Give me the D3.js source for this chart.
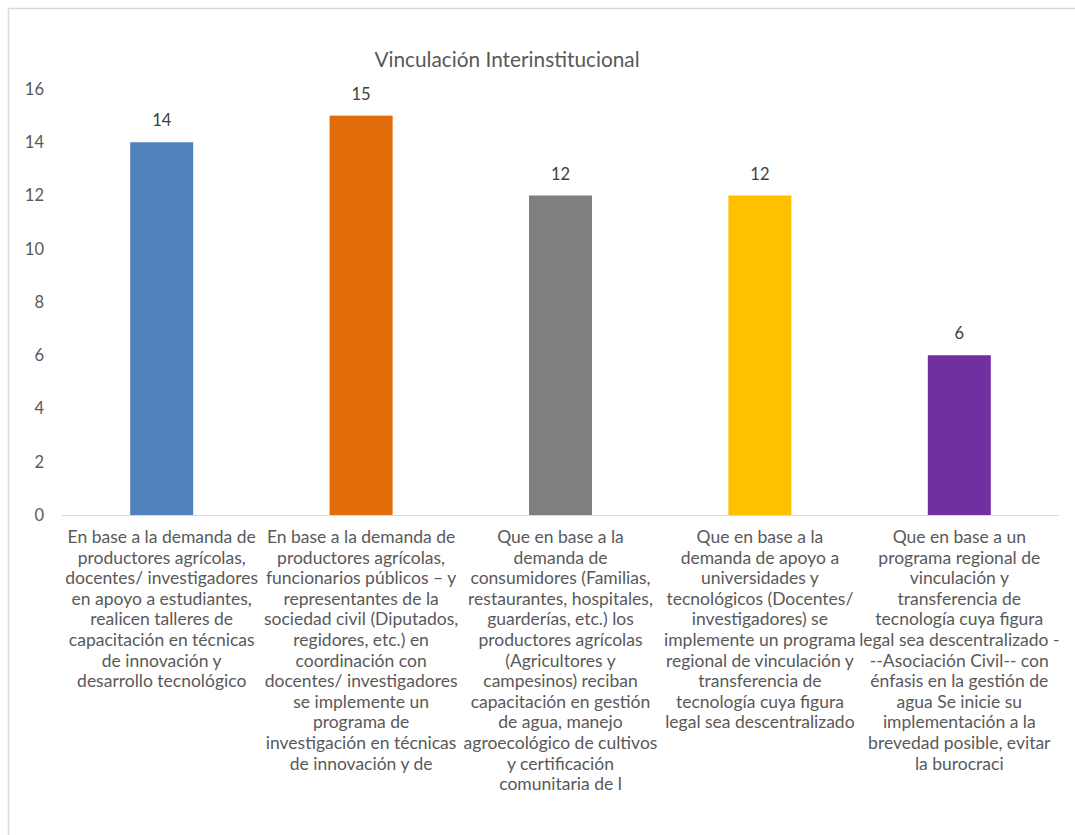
<!DOCTYPE html>
<html>
<head>
<meta charset="utf-8">
<script src="https://cdn.jsdelivr.net/npm/d3@7"></script>
<style>
  html, body { margin: 0; padding: 0; background: #fff; }
  svg { display: block; font-family: Lato, "Open Sans", sans-serif; }
</style>
</head>
<body>
<svg id="chart" width="1075" height="835"></svg>
<script>
// Chart content
const title = "Vinculación Interinstitucional";

const categories = [
  "En base a la demanda de productores agrícolas, docentes/ investigadores en apoyo a estudiantes, realicen talleres de capacitación en técnicas de innovación y desarrollo tecnológico",
  "En base a la demanda de productores agrícolas, funcionarios públicos – y representantes de la sociedad civil (Diputados, regidores, etc.) en coordinación con docentes/ investigadores se implemente un programa de investigación en técnicas de innovación y de",
  "Que en base a la demanda de consumidores (Familias, restaurantes, hospitales, guarderías, etc.) los productores agrícolas (Agricultores y campesinos) reciban capacitación en gestión de agua, manejo agroecológico de cultivos y certificación comunitaria de l",
  "Que en base a la demanda de apoyo a universidades y tecnológicos (Docentes/ investigadores) se implemente un programa regional de vinculación y transferencia de tecnología cuya figura legal sea descentralizado",
  "Que en base a un programa regional de vinculación y transferencia de tecnología cuya figura legal sea descentralizado ---Asociación Civil-- con énfasis en la gestión de agua Se inicie su implementación a la brevedad posible, evitar la burocraci"
];

// Wrapped lines of each category label
const categoryLines = [
  ["En base a la demanda de", "productores agrícolas,", "docentes/ investigadores", "en apoyo a estudiantes,", "realicen talleres de", "capacitación en técnicas", "de innovación y", "desarrollo tecnológico"],
  ["En base a la demanda de", "productores agrícolas,", "funcionarios públicos – y", "representantes de la", "sociedad civil (Diputados,", "regidores, etc.) en", "coordinación con", "docentes/ investigadores", "se implemente un", "programa de", "investigación en técnicas", "de innovación y de"],
  ["Que en base a la", "demanda de", "consumidores (Familias,", "restaurantes, hospitales,", "guarderías, etc.) los", "productores agrícolas", "(Agricultores y", "campesinos) reciban", "capacitación en gestión", "de agua, manejo", "agroecológico de cultivos", "y certificación", "comunitaria de l"],
  ["Que en base a la", "demanda de apoyo a", "universidades y", "tecnológicos (Docentes/", "investigadores) se", "implemente un programa", "regional de vinculación y", "transferencia de", "tecnología cuya figura", "legal sea descentralizado"],
  ["Que en base a un", "programa regional de", "vinculación y", "transferencia de", "tecnología cuya figura", "legal sea descentralizado -", "--Asociación Civil-- con", "énfasis en la gestión de", "agua Se inicie su", "implementación a la", "brevedad posible, evitar", "la burocraci"]
];

const values = [14, 15, 12, 12, 6];
const barColors = ["#4F81BD", "#E36C0A", "#7F7F7F", "#FFC000", "#7030A0"];
const yTicks = [0, 2, 4, 6, 8, 10, 12, 14, 16];

const svg = d3.select("#chart");

// Outer chart frame
svg.append("rect")
  .attr("x", 8.5).attr("y", 8.5)
  .attr("width", 1080).attr("height", 840)
  .attr("fill", "#fff")
  .attr("stroke", "#D9D9D9")
  .attr("stroke-width", 1.5);

const plot = { left: 62, right: 1059, top: 89, bottom: 515 };

const x = d3.scaleBand()
  .domain(d3.range(categories.length))
  .range([plot.left, plot.right])
  .padding(0);

const y = d3.scaleLinear()
  .domain([0, 16])
  .range([plot.bottom, plot.top]);

const barWidth = x.bandwidth() * 0.316;

// Title
svg.append("text")
  .attr("x", 507).attr("y", 67)
  .attr("text-anchor", "middle")
  .attr("fill", "#595959")
  .attr("font-size", 20.8)
  .text(title);

// Y axis labels
const yAxis = d3.axisLeft(y).tickValues(yTicks).tickSize(0).tickPadding(18);
const yG = svg.append("g")
  .attr("transform", `translate(${plot.left},0)`)
  .call(yAxis);
yG.select(".domain").remove();
yG.selectAll("text")
  .attr("fill", "#595959")
  .attr("font-size", 16.5)
  .attr("font-family", "Lato, 'Open Sans', sans-serif");

// Bars
svg.append("g").selectAll("rect")
  .data(values)
  .join("rect")
  .attr("x", (d, i) => x(i) + (x.bandwidth() - barWidth) / 2)
  .attr("y", d => y(d))
  .attr("width", barWidth)
  .attr("height", d => y(0) - y(d))
  .attr("fill", (d, i) => barColors[i]);

// Baseline
svg.append("line")
  .attr("x1", plot.left).attr("x2", plot.right)
  .attr("y1", y(0) + 0.5).attr("y2", y(0) + 0.5)
  .attr("stroke", "#D9D9D9")
  .attr("stroke-width", 1);

// Value labels
svg.append("g").selectAll("text")
  .data(values)
  .join("text")
  .attr("x", (d, i) => x(i) + x.bandwidth() / 2)
  .attr("y", d => y(d) - 16)
  .attr("text-anchor", "middle")
  .attr("fill", "#404040")
  .attr("font-size", 16.5)
  .text(d => d);

// Category labels
const lineHeight = 20.6;
const catG = svg.append("g").selectAll("text")
  .data(categoryLines)
  .join("text")
  .attr("text-anchor", "middle")
  .attr("fill", "#595959")
  .attr("font-size", 17.5);
catG.each(function(lines, i) {
  const t = d3.select(this);
  lines.forEach((line, j) => {
    t.append("tspan")
      .attr("x", x(i) + x.bandwidth() / 2)
      .attr("y", 543 + j * lineHeight)
      .text(line);
  });
});
</script>
</body>
</html>
